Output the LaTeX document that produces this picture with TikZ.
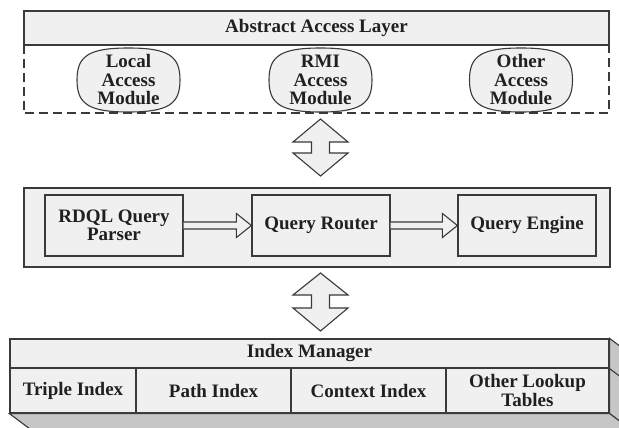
\documentclass[tikz,border=0pt]{standalone}
\usepackage{fontspec}
\setmainfont{Liberation Serif}
\usetikzlibrary{calc}
\definecolor{boxfill}{HTML}{F0F0F0}
\definecolor{linec}{HTML}{3A3A3A}
\definecolor{shadec}{HTML}{C6C6C6}
\definecolor{textc}{HTML}{202020}
\newcommand\modoutline[1]{%
  \draw[modline, shift={(#1)}] (0,-32) .. controls (40,-32) and (51.5,-24) .. (51.5,0)
    .. controls (51.5,24) and (40,32) .. (0,32)
    .. controls (-40,32) and (-51.5,24) .. (-51.5,0)
    .. controls (-51.5,-24) and (-40,-32) .. (0,-32) -- cycle;}
\begin{document}
\begin{tikzpicture}[x=1pt,y=-1pt,
  txt/.style={font=\fontsize{19}{18.5}\selectfont\bfseries, align=center, text=textc},
  plainbox/.style={draw=linec, fill=boxfill, line width=1.2pt, inner sep=0pt, txt},
  outerbox/.style={draw=linec, fill=boxfill, line width=1.6pt, inner sep=0pt},
  modline/.style={draw=linec, fill=boxfill, line width=1.1pt},
  module/.style={minimum width=103pt, minimum height=64pt, inner sep=0pt, txt},
  dashline/.style={draw=linec, line width=1.5pt, dash pattern=on 9pt off 5pt},
  blockarrow/.style={draw=linec, fill=boxfill, line width=1.1pt, line join=miter},
  hollow/.style={draw=linec, fill=boxfill, line width=1.1pt, line join=miter},
  face/.style={draw=linec, fill=shadec, line width=1.1pt, line join=miter}
]
\clip (0,0) rectangle (619,428);
\fill[white] (0,0) rectangle (619,428);

% ---- top layer
\node[plainbox, minimum width=585pt, minimum height=34pt] (aal) at (316.5,28) {Abstract Access Layer};
\node[minimum width=585pt, minimum height=68pt, inner sep=0pt] (modarea) at (316.5,79) {};
\draw[dashline] (modarea.north west) -- (modarea.south west) -- (modarea.south east) -- (modarea.north east);
\coordinate (localc) at (128.5,80);
\coordinate (rmic) at (320.5,80);
\coordinate (otherc) at (521,80);
\modoutline{localc}
\modoutline{rmic}
\modoutline{otherc}
\node[module] (local) at (localc) {Local\\Access\\Module};
\node[module] (rmi) at (rmic) {RMI\\Access\\Module};
\node[module] (other) at (otherc) {Other\\Access\\Module};

% ---- double block arrow 1
\coordinate (a1) at (320.5,119);
\draw[blockarrow, shift={(a1)}] (0,0) -- (27.5,23) -- (9,23) -- (9,34) -- (27.5,34) -- (0,57)
  -- (-27.5,34) -- (-9,34) -- (-9,23) -- (-27.5,23) -- cycle;

% ---- query layer
\node[outerbox, minimum width=586pt, minimum height=79pt] (qlayer) at (317,227.5) {};
\node[plainbox, minimum width=138pt, minimum height=61pt] (rdql) at (114,225.5) {RDQL Query\\Parser};
\node[plainbox, minimum width=138pt, minimum height=61pt] (router) at (321,225.5) {Query Router};
\node[plainbox, minimum width=138pt, minimum height=61pt] (engine) at (527,225.5) {Query Engine};

\draw[hollow] let \p1=(rdql.east), \p2=(router.west) in
  (\x1,\y1+3.5pt) -- (\x2-15pt,\y1+3.5pt) -- (\x2-15pt,\y1+12pt) -- (\x2,\y1)
  -- (\x2-15pt,\y1-12pt) -- (\x2-15pt,\y1-3.5pt) -- (\x1,\y1-3.5pt);
\draw[hollow] let \p1=(router.east), \p2=(engine.west) in
  (\x1,\y1+3.5pt) -- (\x2-15pt,\y1+3.5pt) -- (\x2-15pt,\y1+12pt) -- (\x2,\y1)
  -- (\x2-15pt,\y1-12pt) -- (\x2-15pt,\y1-3.5pt) -- (\x1,\y1-3.5pt);

% ---- double block arrow 2
\coordinate (a2) at (320.5,273);
\draw[blockarrow, shift={(a2)}] (0,0) -- (27.5,22) -- (9,22) -- (9,35) -- (27.5,35) -- (0,58)
  -- (-27.5,35) -- (-9,35) -- (-9,22) -- (-27.5,22) -- cycle;

% ---- index manager (3D slab)
\node[plainbox, minimum width=599pt, minimum height=29pt] (im) at (309.5,353.5) {Index Manager};
\node[plainbox, minimum width=126pt, minimum height=45pt] (triple) at (73,390.5) {Triple Index};
\node[plainbox, minimum width=155pt, minimum height=45pt] (pathidx) at (213.5,390.5) {Path Index};
\node[plainbox, minimum width=155pt, minimum height=45pt] (ctx) at (368.5,390.5) {Context Index};
\node[plainbox, minimum width=163pt, minimum height=45pt] (lookup) at (527.5,390.5) {Other Lookup\\Tables};

\draw[face] (im.north east) -- ($(im.north east)+(30,22.5)$) -- ($(lookup.south east)+(30,22.5)$)
  -- (lookup.south east) -- cycle;
\draw[face] (triple.south west) -- (lookup.south east) -- ($(lookup.south east)+(30,22.5)$)
  -- ($(triple.south west)+(30,22.5)$) -- cycle;
\draw[linec, line width=1.1pt] (im.south east) -- ($(im.south east)+(30,22.5)$);
\end{tikzpicture}
\end{document}
